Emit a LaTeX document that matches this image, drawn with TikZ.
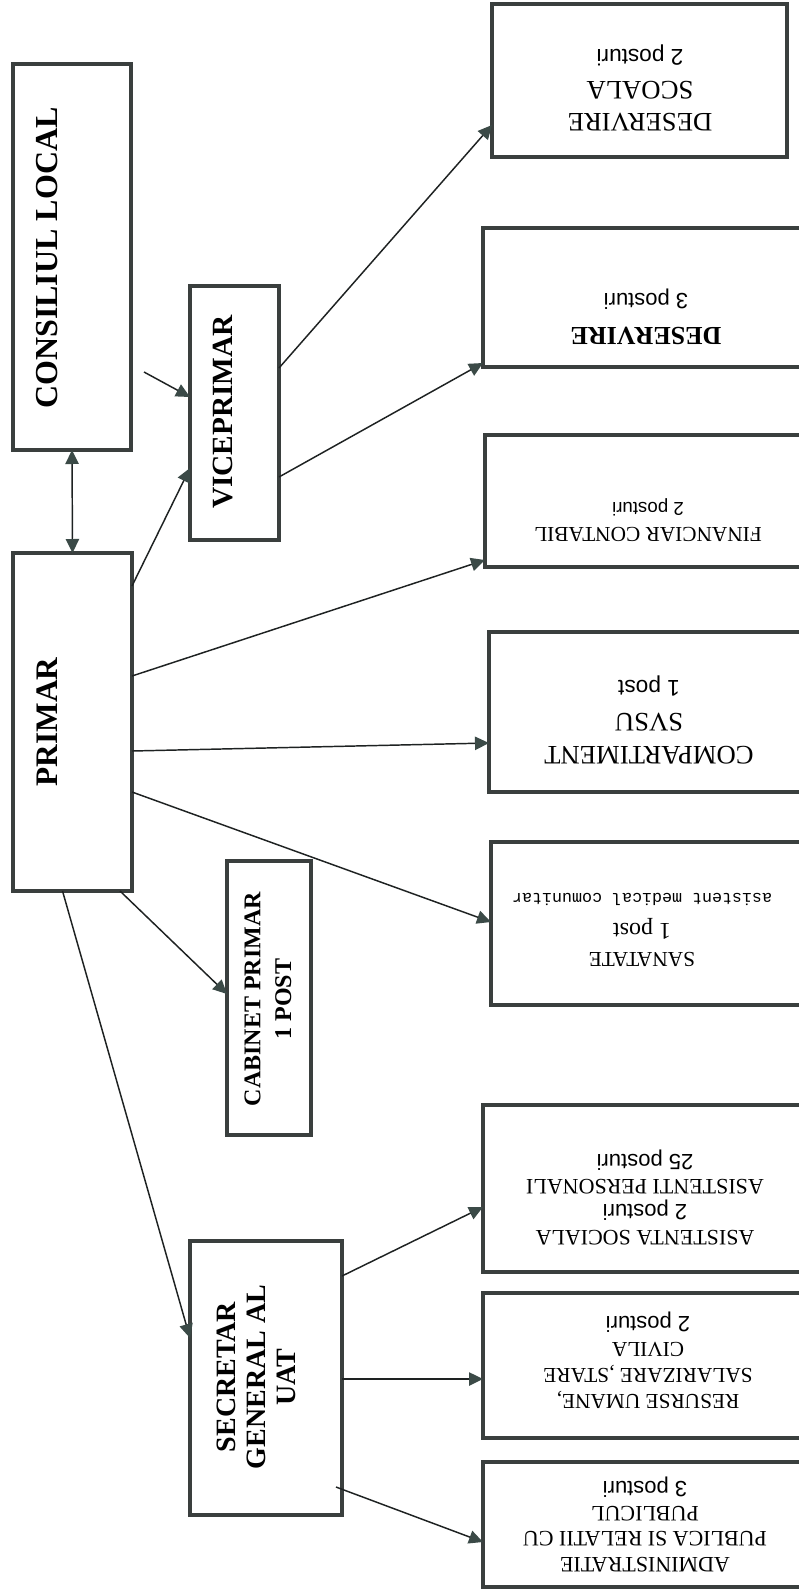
\documentclass[tikz,border=0pt]{standalone}
\usepackage{fontspec}
\setmainfont{Liberation Serif}
\newfontfamily\postfont{Liberation Sans}
\newfontfamily\medfont{Liberation Mono}
\usetikzlibrary{arrows.meta,fit,calc}
\definecolor{boxgray}{HTML}{3A3F3E}
\definecolor{headgray}{HTML}{3B4A47}
\definecolor{linegray}{HTML}{1E2222}
\begin{document}
\begin{tikzpicture}[x=0.75pt,y=-0.75pt,
  box/.style={draw=boxgray,line width=3pt,inner sep=0pt,outer sep=0pt},
  conn/.style={draw=linegray,line width=1.1pt,-{Triangle[length=10.5pt,width=10pt,color=headgray]}},
  conntwo/.style={draw=linegray,line width=1.1pt,{Triangle[length=10.5pt,width=10pt,color=headgray]}-{Triangle[length=10.5pt,width=10pt,color=headgray]}},
  ltext/.style={rotate=90,align=center,inner sep=0pt},
  rtext/.style={rotate=180,align=center,inner sep=0pt}]
\useasboundingbox (0,0) rectangle (799,1592);
\clip (0,0) rectangle (799,1592);
\fill[white] (0,0) rectangle (799,1592);

% left column boxes
\node[box,fit={(13,64) (131,450)}] (cons) {};
\node[box,fit={(190,286) (279,540)}] (vice) {};
\node[box,fit={(13,553) (132,891)}] (primar) {};
\node[box,fit={(227,861) (311,1135)}] (cab) {};
\node[box,fit={(190,1241) (342,1515)}] (sec) {};

% right column boxes
\node[box,fit={(492,4) (787,157)}] (scoala) {};
\node[box,fit={(483,228) (812,367)}] (deserv) {};
\node[box,fit={(485,435) (812,567)}] (fin) {};
\node[box,fit={(489,632) (812,792)}] (comp) {};
\node[box,fit={(491,842) (812,1005)}] (san) {};
\node[box,fit={(483,1105) (812,1272)}] (asis) {};
\node[box,fit={(483,1293) (812,1438)}] (res) {};
\node[box,fit={(483,1462) (812,1587)}] (adm) {};

% connectors
\coordinate (c0) at (144,372);
\draw[conntwo] (cons.south) -- (primar.north);
\draw[conn] (c0) -- ($(vice.north west)+(0,111)$);
\draw[conn] ($(primar.north east)+(0,33)$) -- ($(vice.north west)+(0,182)$);
\draw[conn] ($(vice.north east)+(0,82)$) -- ($(scoala.north west)+(0,121)$);
\draw[conn] ($(vice.north east)+(0,191)$) -- ($(deserv.south west)+(0,-4)$);
\draw[conn] ($(primar.north east)+(0,123)$) -- ($(fin.south west)+(0,-7)$);
\draw[conn] ($(primar.north east)+(0,198)$) -- ($(comp.north west)+(0,111)$);
\draw[conn] ($(primar.north east)+(0,239)$) -- ($(san.north west)+(0,80)$);
\draw[conn] ($(primar.south east)+(-12,0)$) -- ($(cab.north west)+(0,133)$);
\draw[conn] ($(primar.south)+(-10,0)$) -- ($(sec.north west)+(0,97)$);
\draw[conn] ($(sec.north east)+(0,35)$) -- ($(asis.north west)+(0,102)$);
\draw[conn] ($(sec.north east)+(0,138)$) -- ($(res.north west)+(0,86)$);
\draw[conn] ($(sec.north east)+(-6,246)$) -- ($(adm.north west)+(0,80)$);

% left texts
\node[ltext,font=\bfseries\fontsize{24}{28}\selectfont] (tcons) at (47,258) {CONSILIUL LOCAL};
\node[ltext,font=\bfseries\fontsize{23.5}{28}\selectfont] (tprim) at (47,722) {PRIMAR};
\node[ltext,font=\bfseries\fontsize{22}{26}\selectfont] (tvice) at (223,412) {VICEPRIMAR};
\node[ltext,font=\bfseries\fontsize{18}{23}\selectfont] (tcab) at (268,999) {CABINET PRIMAR\\1 POST};
\node[ltext,font=\bfseries\fontsize{21}{22.5}\selectfont] (tsec) at (256,1377) {SECRETAR\\GENERAL AL\\UAT};

% right texts
\node[rtext,font=\fontsize{20}{24}\selectfont] (tscoala) at (640,88) {DESERVIRE\\SCOALA\\{\postfont\fontsize{17}{24}\selectfont 2 posturi}};
\node[rtext,font=\fontsize{19.5}{25.5}\selectfont] (tdeserv) at (646,317) {{\bfseries DESERVIRE}\\{\postfont\fontsize{16.5}{25.5}\selectfont 3 posturi}};
\node[rtext,font=\fontsize{16}{19}\selectfont] (tfin) at (648,520) {FINANCIAR CONTABIL\\{\postfont\fontsize{14}{19}\selectfont 2 posturi}};
\node[rtext,font=\fontsize{20}{24.5}\selectfont] (tcomp) at (649,720) {COMPARTIMENT\\SVSU\\{\postfont\fontsize{17}{24.5}\selectfont 1 post}};
\node[rtext,font=\fontsize{16}{22}\selectfont] (tsan) at (642,930) {SANATATE\\{\fontsize{18}{22}\selectfont 1 post}\\{\medfont\fontsize{12.5}{22}\selectfont asistent medical comunitar}};
\node[rtext,font=\fontsize{16.5}{19}\selectfont] (tasis) at (645,1197) {ASISTENTA SOCIALA\\{\postfont 2 posturi}\\ASISTENTI PERSONALI\\{\postfont 25 posturi}};
\node[rtext,font=\fontsize{16}{19.5}\selectfont] (tres) at (648,1360) {RESURSE UMANE,\\SALARIZARE ,STARE\\CIVILA\\{\postfont\fontsize{16.5}{19.5}\selectfont 2 posturi}};
\node[rtext,font=\fontsize{16.5}{19}\selectfont] (tadm) at (645,1524) {ADMINISTRATIE\\PUBLICA SI RELATII CU\\PUBLICUL\\{\postfont 3 posturi}};
\end{tikzpicture}
\end{document}
